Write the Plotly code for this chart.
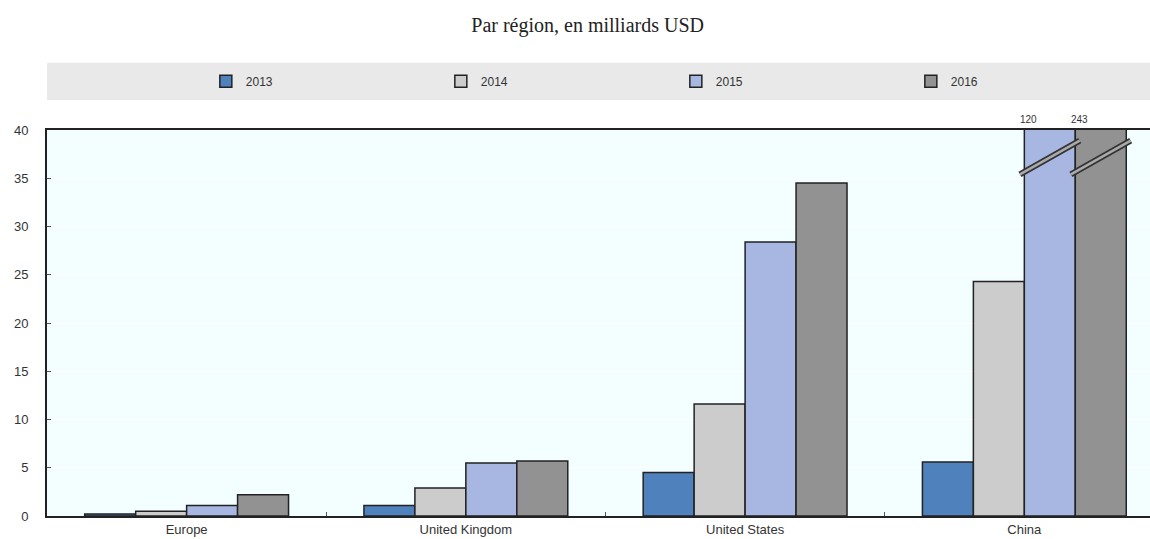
import plotly.graph_objects as go

regions = ["Europe", "United Kingdom", "United States", "China"]
years = ["2013", "2014", "2015", "2016"]
v2013 = [0.2, 1.1, 4.5, 5.6]
v2014 = [0.5, 2.9, 11.6, 24.3]
v2015 = [1.1, 5.5, 28.4, 120]
v2016 = [2.2, 5.7, 34.5, 243]
colors = ["#4f81bd", "#cccccc", "#a7b7e1", "#929292"]
y_ticks = [0, 5, 10, 15, 20, 25, 30, 35, 40]
y_max = 40

series = [v2013, v2014, v2015, v2016]

fig = go.Figure()
for name, vals, col in zip(years, series, colors):
    fig.add_trace(go.Bar(
        x=regions, y=vals, name=name,
        marker=dict(color=col, line=dict(color="#222222", width=1.5)),
        cliponaxis=True,
    ))

bargap = 0.27
group_w = 1 - bargap
bar_w = group_w / len(years)

shapes = [
    # grey legend band
    dict(type="rect", xref="paper", yref="paper", x0=0, x1=1, y0=1.078, y1=1.174,
         fillcolor="#e9e9e9", line=dict(width=0), layer="below"),
]
annotations = []
for j, vals in enumerate(series):
    for i, v in enumerate(vals):
        if v > y_max:
            center = i - group_w / 2 + (j + 0.5) * bar_w
            for w, c in [(6, "#333333"), (2.5, "#aaaaaa")]:
                shapes.append(dict(type="line", xref="x", yref="y",
                                   x0=center - 0.107, x1=center + 0.107,
                                   y0=35.4, y1=38.9,
                                   line=dict(color=c, width=w)))
            annotations.append(dict(x=center - bar_w / 2, y=y_max, xref="x", yref="y",
                                    text=str(v), showarrow=False, yanchor="bottom",
                                    xshift=4, yshift=3,
                                    font=dict(family="Liberation Sans", size=10, color="#333333")))

fig.update_layout(
    width=1150, height=539,
    margin=dict(l=47, r=0, t=130, b=23),
    paper_bgcolor="white",
    plot_bgcolor="#f2feff",
    barmode="group", bargap=bargap, bargroupgap=0,
    font=dict(family="Liberation Sans", size=12, color="#333333"),
    title=dict(text="Par région, en milliards USD", x=0.511, xanchor="center",
               xref="container", yref="container", y=1 - 25 / 539, yanchor="middle",
               font=dict(family="Liberation Serif", size=20, color="#222222")),
    showlegend=True,
    legend=dict(orientation="h", x=0.144, y=1.126, xanchor="left", yanchor="middle",
                xref="paper", yref="paper",
                bgcolor="rgba(0,0,0,0)", entrywidth=190, entrywidthmode="pixels",
                font=dict(family="Liberation Sans", size=12, color="#333333"),
                traceorder="normal"),
    shapes=shapes,
    annotations=annotations,
    xaxis=dict(range=[-0.5, 3.45], showline=True, mirror=True, linecolor="#222222",
               linewidth=2, ticks="inside", tickson="boundaries", ticklen=4,
               tickcolor="#555555", showgrid=False, fixedrange=True, automargin=False,
               ticklabelstandoff=0,
               tickfont=dict(family="Liberation Sans", size=13, color="#333333")),
    yaxis=dict(range=[0, y_max], tickvals=y_ticks, showline=True, mirror=False,
               linecolor="#222222", linewidth=2, ticks="inside", ticklen=4,
               tickcolor="#555555", showgrid=True, gridcolor="white", gridwidth=1,
               zeroline=False, ticklabelstandoff=14, automargin=False,
               tickfont=dict(family="Liberation Sans", size=13, color="#333333")),
)

fig.write_html("out.html", config={"displayModeBar": False},
               post_script="document.body.style.margin='0';document.body.style.padding='0';")
